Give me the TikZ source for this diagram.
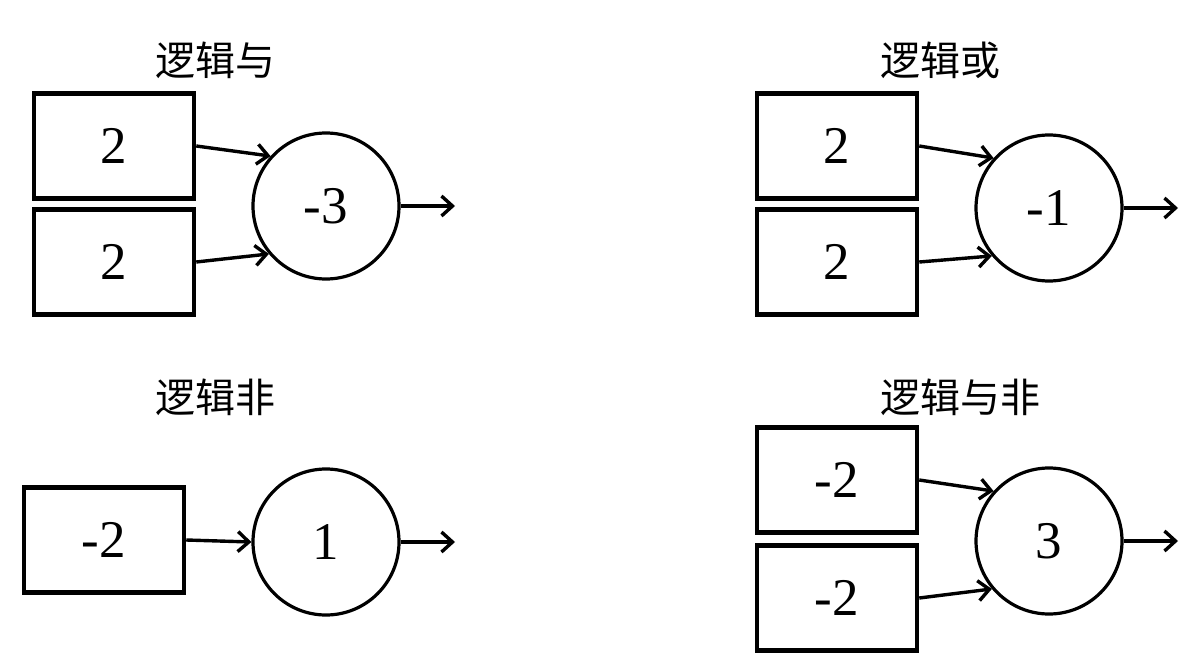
\documentclass[tikz,border=0pt]{standalone}
\usepackage{fontspec}
\setmainfont{Liberation Serif}
\newfontfamily\cjk{Noto Sans CJK SC}
\usetikzlibrary{arrows.meta}
\newcommand{\numfont}{\fontsize{53}{60}\selectfont}
\newcommand{\titlefont}{\cjk\fontsize{40}{46}\selectfont}
\tikzstyle{inbox}=[draw, line width=4.5pt, minimum width=160pt, minimum height=105pt, inner sep=0pt, font=\numfont]
\tikzstyle{neuron}=[draw, circle, line width=3.2pt, minimum size=146pt, inner sep=0pt, font=\numfont]
\tikzstyle{link}=[line width=3.4pt, -{Straight Barb[length=11pt,width=20pt,line width=3.4pt]}]
\tikzstyle{title}=[font=\titlefont, inner sep=0pt]

\begin{document}
\begin{tikzpicture}[x=1pt, y=-1pt]
				\useasboundingbox (0,0) rectangle (1185,666);
				% logical and
				\node[title] (tand) at (215,60) {逻辑与};
				\node[inbox] (and1) at (114,146) {2};
				\node[inbox] (and2) at (114,262) {2};
				\node[neuron] (andc) at (326,206) {-3};
				\coordinate (andout) at (455,206);
				\draw[link] (and1.east) -- (andc.138);
				\draw[link] (and2.east) -- (andc.220);
				\draw[link] (andc.east) -- (andout);
				% logical or
				\node[title] (tor) at (940,60) {逻辑或};
				\node[inbox] (or1) at (837,146) {2};
				\node[inbox] (or2) at (837,262) {2};
				\node[neuron] (orc) at (1049,208) {-1};
				\coordinate (orout) at (1178,208);
				\draw[link] (or1.east) -- (orc.138);
				\draw[link] (or2.east) -- (orc.220);
				\draw[link] (orc.east) -- (orout);
				% logical not
				\node[title] (tnot) at (215,397) {逻辑非};
				\node[inbox] (not1) at (104,540) {-2};
				\node[neuron] (notc) at (326,542) {1};
				\coordinate (notout) at (455,542);
				\draw[link] (not1.east) -- (notc.west);
				\draw[link] (notc.east) -- (notout);
				% logical nand
				\node[title] (tnand) at (960,397) {逻辑与非};
				\node[inbox] (nand1) at (837,480) {-2};
				\node[inbox] (nand2) at (837,598) {-2};
				\node[neuron] (nandc) at (1049,541) {3};
				\coordinate (nandout) at (1178,541);
				\draw[link] (nand1.east) -- (nandc.138);
				\draw[link] (nand2.east) -- (nandc.220);
				\draw[link] (nandc.east) -- (nandout);
			\end{tikzpicture}
\end{document}
